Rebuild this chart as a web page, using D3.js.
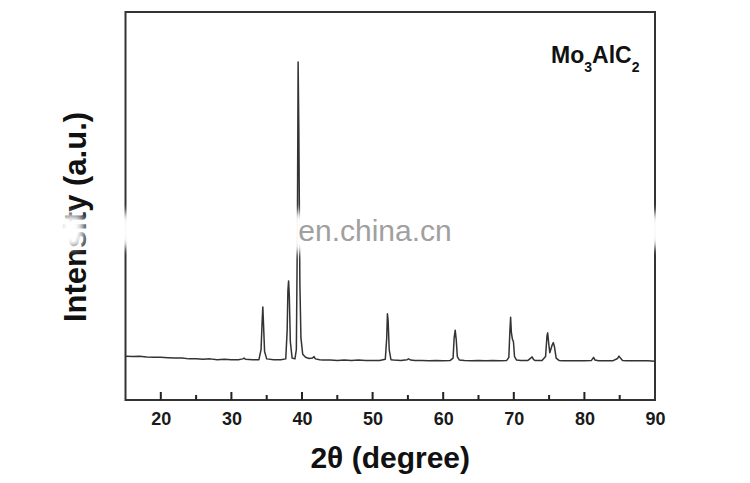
<!DOCTYPE html>
<html>
<head>
<meta charset="utf-8">
<script src="https://cdn.jsdelivr.net/npm/d3@7"></script>
<style>
  html, body { margin: 0; padding: 0; background: #fff; }
  svg { display: block; }
  text { font-family: "Liberation Sans", Arial, sans-serif; }
</style>
</head>
<body>
<svg id="chart" width="750" height="483"></svg>
<script>
const twoTheta = [
  15, 16, 17, 18, 19, 20, 21, 22, 23, 24, 25, 26, 27, 28, 29, 30, 31,
  31.6, 31.8, 32.0, 33, 33.9, 34.2, 34.35, 34.45, 34.55, 34.7, 35.0, 36, 37,
  37.7, 37.9, 38.0, 38.1, 38.2, 38.35, 38.6, 39.0, 39.2, 39.35, 39.45, 39.55,
  39.7, 39.85, 40.1, 40.5, 41, 41.5, 41.7, 41.9, 42.5, 43, 44, 45, 46, 47, 48,
  49, 50, 51, 51.8, 52.0, 52.1, 52.2, 52.35, 52.6, 53, 54, 54.9, 55.1, 55.4,
  56, 57, 58, 59, 60, 61, 61.4, 61.55, 61.7, 61.85, 62.0, 62.3, 63, 64, 65, 66,
  67, 68, 69, 69.3, 69.45, 69.55, 69.65, 69.8, 69.95, 70.1, 70.4, 71, 72, 72.4,
  72.6, 72.8, 73, 74, 74.5, 74.7, 74.8, 74.95, 75.1, 75.4, 75.6, 75.75, 76.0,
  76.4, 77, 78, 79, 80, 81, 81.15, 81.3, 81.5, 82, 83, 84, 84.7, 84.9, 85.1,
  85.4, 86, 87, 88, 89, 90
];
const intensity = [
  113, 112, 113, 111, 110, 110, 109, 108, 108, 106, 106, 105, 106, 104, 105, 104, 104,
  106, 108, 105, 104, 104, 130, 200, 240, 195, 125, 106, 104, 104,
  106, 180, 280, 307, 270, 150, 108, 106, 130, 450, 871, 700,
  300, 160, 118, 110, 107, 108, 112, 106, 104, 103, 103, 102, 103, 102, 103,
  102, 102, 102, 105, 160, 222, 205, 130, 104, 103, 102, 104, 106, 103,
  102, 102, 101, 102, 101, 102, 108, 160, 180, 155, 112, 103, 102, 101, 102, 101,
  102, 101, 102, 110, 180, 213, 175, 157, 150, 112, 103, 102, 102, 108,
  111, 104, 102, 102, 112, 165, 173, 145, 122, 140, 148, 138, 108,
  102, 101, 101, 101, 101, 102, 106, 110, 103, 101, 101, 101, 107, 113, 108,
  102, 101, 101, 101, 101, 100
];
const xTicksMajor = [20, 30, 40, 50, 60, 70, 80, 90];
const xTicksMinor = [25, 35, 45, 55, 65, 75, 85];
const xTickLabels = ["20", "30", "40", "50", "60", "70", "80", "90"];

// ---- layout ----
const svg = d3.select("#chart");
const pLeft = 125.5, pRight = 655, pTop = 12, pBottom = 400;

const x = d3.scaleLinear().domain([15, 90]).range([pLeft, pRight]);
const y = d3.scaleLinear().domain([0, 1000]).range([pBottom, pTop]);

const defs = svg.append("defs");
defs.append("filter").attr("id", "blur").attr("x", "-50%").attr("y", "-50%")
  .attr("width", "200%").attr("height", "200%")
  .append("feGaussianBlur").attr("stdDeviation", 4);

// data line
const pts = twoTheta.map((t, i) => [t, intensity[i]]);
svg.append("path")
  .datum(pts)
  .attr("fill", "none")
  .attr("stroke", "#333")
  .attr("stroke-width", 1.5)
  .attr("stroke-linejoin", "round")
  .attr("d", d3.line().x(d => x(d[0])).y(d => y(d[1])));

// frame
svg.append("rect")
  .attr("x", pLeft).attr("y", pTop)
  .attr("width", pRight - pLeft).attr("height", pBottom - pTop)
  .attr("fill", "none").attr("stroke", "#333").attr("stroke-width", 2);

// bottom axis labels via d3 axis
const axisMajor = d3.axisBottom(x).tickValues(xTicksMajor)
  .tickSize(0).tickFormat((d, i) => xTickLabels[i]).tickPadding(12);
const gx = svg.append("g").attr("transform", `translate(0,${pBottom})`).call(axisMajor);
gx.select(".domain").remove();
gx.selectAll(".tick line").remove();
gx.selectAll(".tick text")
  .attr("fill", "#1a1a1a")
  .style("font-family", "'Liberation Sans', Arial, sans-serif")
  .style("font-size", "18px").style("font-weight", "bold");

// inward tick marks
const tickG = svg.append("g");
tickG.selectAll("rect.major")
  .data(xTicksMajor.filter(d => d < 90))
  .join("rect").attr("class", "major")
  .attr("x", d => x(d) - 1).attr("width", 2)
  .attr("y", pBottom - 8).attr("height", 8)
  .attr("fill", "#222");
tickG.selectAll("rect.minor")
  .data(xTicksMinor)
  .join("rect").attr("class", "minor")
  .attr("x", d => x(d) - 1).attr("width", 2)
  .attr("y", pBottom - 5).attr("height", 5)
  .attr("fill", "#222");

// axis titles
svg.append("text")
  .attr("x", (pLeft + pRight) / 2).attr("y", 468)
  .attr("text-anchor", "middle")
  .attr("fill", "#111")
  .style("font-size", "30px").style("font-weight", "bold")
  .text("2θ (degree)");

svg.append("text")
  .attr("transform", "translate(86,217) rotate(-90)")
  .attr("text-anchor", "middle")
  .attr("fill", "#111")
  .style("font-size", "31px").style("font-weight", "bold")
  .text("Intensity (a.u.)");

// compound label
const lbl = svg.append("text")
  .attr("x", 551).attr("y", 63)
  .attr("fill", "#111")
  .style("font-size", "23px").style("font-weight", "bold");
lbl.append("tspan").text("Mo");
lbl.append("tspan").attr("dy", 9).style("font-size", "14px").text("3");
lbl.append("tspan").attr("dy", -9).text("AlC");
lbl.append("tspan").attr("dy", 9).style("font-size", "14px").text("2");

// watermark
const wm = svg.append("g").attr("filter", "url(#blur)");
wm.append("rect").attr("x", 290).attr("y", 212).attr("width", 172).attr("height", 40).attr("fill", "#fff");
wm.append("rect").attr("x", 116).attr("y", 212).attr("width", 18).attr("height", 36).attr("rx", 8).attr("fill", "#fff");
wm.append("rect").attr("x", 646).attr("y", 212).attr("width", 18).attr("height", 36).attr("rx", 8).attr("fill", "#fff");
wm.append("rect").attr("x", 58).attr("y", 214).attr("width", 26).attr("height", 34).attr("rx", 8).attr("fill", "#fff");

svg.append("text")
  .attr("x", 375).attr("y", 241)
  .attr("text-anchor", "middle")
  .attr("fill", "#a0a0a0")
  .style("font-size", "30px")
  .text("en.china.cn");
</script>
</body>
</html>
